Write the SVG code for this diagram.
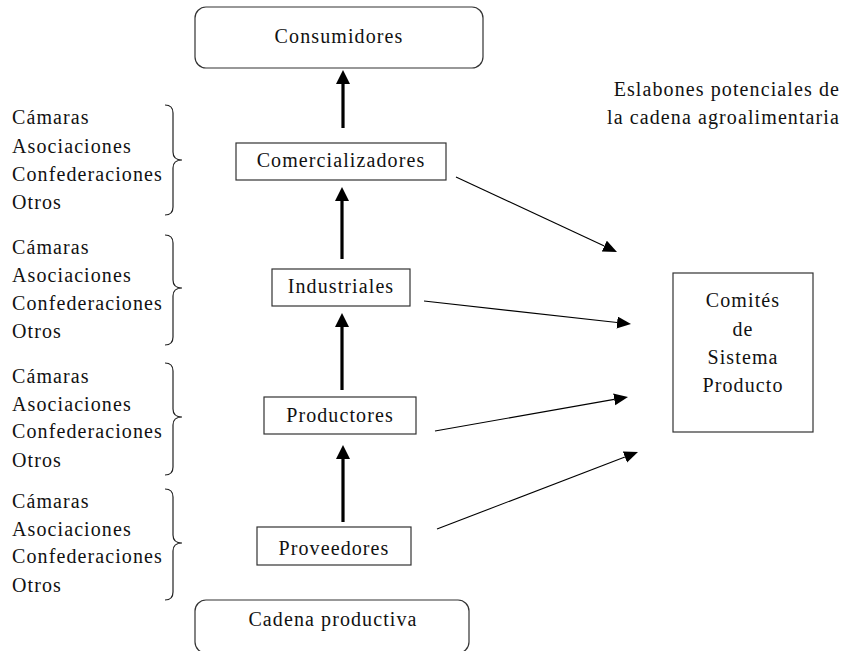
<svg xmlns="http://www.w3.org/2000/svg" width="851" height="651" viewBox="0 0 851 651" font-family="'Liberation Serif', serif">
<style>
text{font-family:'Liberation Serif',serif;font-size:20px;fill:#111;letter-spacing:1.1px}
.c{text-anchor:middle}
.e{text-anchor:end}
.box{fill:#fff;stroke:#333;stroke-width:1.2}
.thick{stroke:#000;stroke-width:3.2;fill:none}
.thin{stroke:#000;stroke-width:1.1;fill:none}
.brace{stroke:#222;stroke-width:1.2;fill:none}
</style>
<defs>
<marker id="hk" markerUnits="userSpaceOnUse" markerWidth="15" markerHeight="15" refX="0" refY="7" orient="auto"><path d="M0,0 L14,7 L0,14 z" fill="#000"/></marker>
<marker id="hn" markerUnits="userSpaceOnUse" markerWidth="15" markerHeight="13" refX="0" refY="6" orient="auto"><path d="M0,0 L14,6 L0,12 z" fill="#000"/></marker>
</defs>
<rect width="851" height="651" fill="#fff"/>

<g id="consumidores"><rect class="box" x="195" y="7" width="288" height="61" rx="11"/><text class="c" x="339" y="43">Consumidores</text></g>
<g id="comercializadores"><rect class="box" x="236" y="143" width="210" height="37"/><text class="c" x="341" y="167">Comercializadores</text></g>
<g id="industriales"><rect class="box" x="272" y="269" width="138" height="37"/><text class="c" x="341" y="293">Industriales</text></g>
<g id="productores"><rect class="box" x="264" y="397" width="152" height="37"/><text class="c" x="340" y="422">Productores</text></g>
<g id="proveedores"><rect class="box" x="257" y="527" width="154" height="38"/><text class="c" x="334" y="555">Proveedores</text></g>
<g id="cadena"><rect class="box" x="195" y="600" width="274" height="53" rx="11"/><text class="c" x="333" y="626">Cadena productiva</text></g>
<g id="comites"><rect class="box" x="673" y="273" width="140" height="159"/>
<text class="c" x="743" y="307">Comités</text><text class="c" x="743" y="336">de</text><text class="c" x="743" y="364">Sistema</text><text class="c" x="743" y="392">Producto</text></g>
<g id="eslabones"><text class="e" x="840" y="96">Eslabones potenciales de</text><text class="e" x="840" y="124">la cadena agroalimentaria</text></g>

<g id="org1"><text x="12" y="124">Cámaras</text><text x="12" y="153">Asociaciones</text><text x="12" y="181">Confederaciones</text><text x="12" y="209">Otros</text>
<path class="brace" d="M165,105 Q173,105 173,113 L173,152 Q173,160 182,160 Q173,160 173,168 L173,207 Q173,215 165,215"/></g>
<g id="org2"><text x="12" y="254">Cámaras</text><text x="12" y="282">Asociaciones</text><text x="12" y="310">Confederaciones</text><text x="12" y="338">Otros</text>
<path class="brace" d="M165,235 Q173,235 173,243 L173,280 Q173,288 182,288 Q173,288 173,296 L173,337 Q173,345 165,345"/></g>
<g id="org3"><text x="12" y="383">Cámaras</text><text x="12" y="411">Asociaciones</text><text x="12" y="438">Confederaciones</text><text x="12" y="467">Otros</text>
<path class="brace" d="M165,363 Q173,363 173,371 L173,409 Q173,417 182,417 Q173,417 173,425 L173,467 Q173,475 165,475"/></g>
<g id="org4"><text x="12" y="508">Cámaras</text><text x="12" y="536">Asociaciones</text><text x="12" y="563">Confederaciones</text><text x="12" y="592">Otros</text>
<path class="brace" d="M165,489 Q173,489 173,497 L173,535 Q173,543 182,543 Q173,543 173,551 L173,592 Q173,600 165,600"/></g>

<g id="connectors">
<line class="thick" x1="343" y1="128" x2="343" y2="84" marker-end="url(#hk)"/>
<line class="thick" x1="342" y1="259" x2="342" y2="201" marker-end="url(#hk)"/>
<line class="thick" x1="342" y1="390" x2="342" y2="327" marker-end="url(#hk)"/>
<line class="thick" x1="343" y1="522" x2="343" y2="459" marker-end="url(#hk)"/>
<line class="thin" x1="456" y1="177" x2="604.3" y2="246.1" marker-end="url(#hn)"/>
<line class="thin" x1="424" y1="301" x2="617.1" y2="322.5" marker-end="url(#hn)"/>
<line class="thin" x1="435" y1="431" x2="614.2" y2="399.4" marker-end="url(#hn)"/>
<line class="thin" x1="437" y1="529" x2="624.9" y2="457" marker-end="url(#hn)"/>
</g>
</svg>
